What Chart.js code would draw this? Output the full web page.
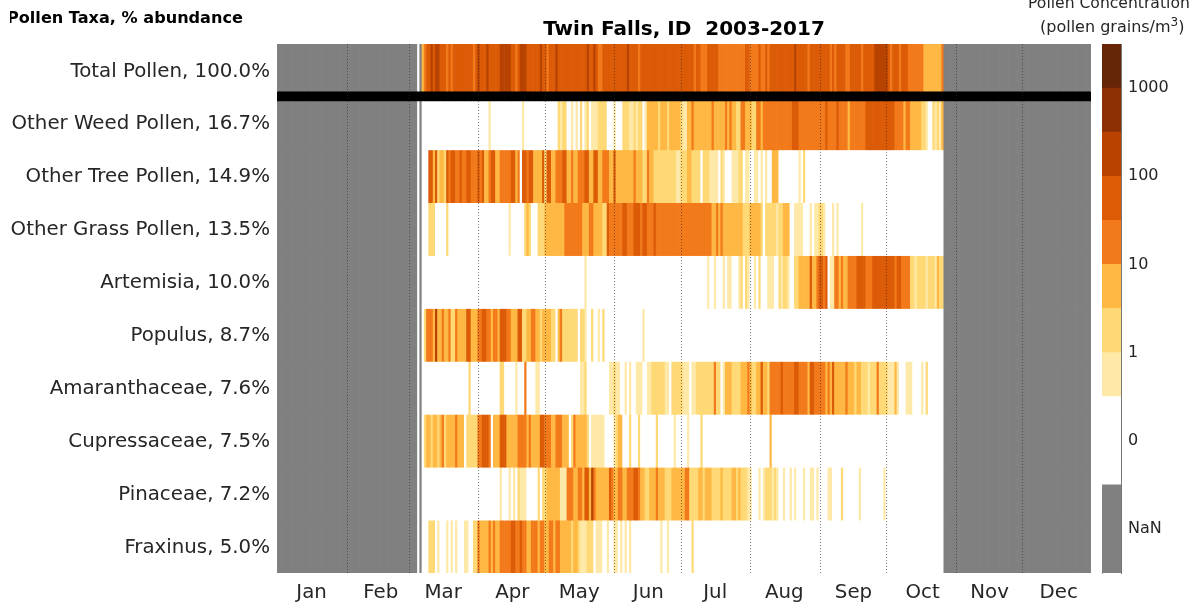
<!DOCTYPE html>
<html>
<head>
<meta charset="utf-8">
<script src="https://cdn.jsdelivr.net/npm/chart.js@4/dist/chart.umd.js"></script>
<style>
html,body{margin:0;padding:0;background:#fff;width:1203px;height:607px;overflow:hidden;font-family:"DejaVu Sans",sans-serif;}
canvas{position:absolute;}
.note{position:absolute;white-space:nowrap;color:#000;}
</style>
</head>
<body>
<canvas id="main" width="1203" height="607" style="left:0;top:0"></canvas>
<canvas id="bar" width="108" height="607" style="left:1095px;top:0"></canvas>
<div class="note" style="left:10px;top:9px;width:240px;overflow:hidden;font-weight:bold;font-size:16.1px;line-height:18px"><span style="margin-left:-3px">Pollen Taxa, % abundance</span></div>
<div class="note" style="left:1028px;top:-6px;font-size:15.6px;line-height:18px;color:#262626">Pollen Concentration</div>
<div class="note" style="left:1040px;top:18px;font-size:16px;line-height:18px;color:#262626">(pollen grains/m<sup style="font-size:12px;line-height:0;vertical-align:6px">3</sup>)</div>
<script>
const rowLabels = ["Total Pollen, 100.0%","Other Weed Pollen, 16.7%","Other Tree Pollen, 14.9%","Other Grass Pollen, 13.5%","Artemisia, 10.0%","Populus, 8.7%","Amaranthaceae, 7.6%","Cupressaceae, 7.5%","Pinaceae, 7.2%","Fraxinus, 5.0%"];
const monthLabels = ["Jan","Feb","Mar","Apr","May","Jun","Jul","Aug","Sep","Oct","Nov","Dec"];
const monthLabelDays = [15,46,74,105,135,166,196,227,258,289,319,350];
const monthStartDays = [31,59,90,120,151,181,212,243,273,304,334];
const barTickLabels = ["NaN","0","1","10","100","1000"];
const levelColors = ["#ffffff","#FEE9A8","#FED976","#FEB843","#F27A1B","#DC5B07","#B84301","#8C2F03","#662506"];
const nanColor = "#808080";
// each entry: [day of year, colour-bin level from that day on]
const totalPollen = [[65,3],[66,4],[67,5],[69,6],[70,5],[71,6],[73,5],[76,4],[77,5],[78,4],[79,5],[88,4],[89,5],[90,6],[91,5],[94,6],[95,5],[100,6],[105,5],[107,4],[108,5],[109,6],[112,5],[118,6],[119,5],[121,4],[122,5],[125,6],[126,5],[139,6],[140,5],[142,6],[143,5],[144,4],[146,5],[157,6],[158,5],[162,4],[163,5],[187,4],[188,5],[190,4],[193,5],[198,4],[210,5],[212,4],[216,5],[217,4],[219,5],[220,4],[221,5],[232,6],[233,5],[238,4],[239,5],[248,4],[249,5],[250,4],[251,5],[255,4],[257,5],[262,4],[263,5],[268,6],[274,5],[275,4],[276,5],[279,4],[280,5],[283,4],[290,3],[298,4]];
const otherWeed = [[65,0],[95,1],[96,0],[110,1],[111,0],[126,2],[127,1],[128,2],[130,0],[132,1],[133,0],[134,1],[135,0],[136,2],[137,0],[138,1],[139,2],[140,0],[141,1],[144,2],[148,0],[151,1],[152,0],[155,2],[158,1],[160,2],[161,1],[162,2],[164,0],[165,1],[166,3],[171,2],[172,3],[175,2],[176,3],[181,2],[182,1],[184,3],[186,4],[187,3],[195,4],[196,3],[201,4],[202,3],[203,4],[204,3],[206,2],[208,4],[210,3],[213,2],[215,4],[217,3],[218,4],[231,5],[234,4],[246,5],[247,4],[251,5],[252,4],[256,3],[257,4],[264,5],[277,4],[281,3],[282,4],[284,3],[289,2],[291,1],[292,0],[294,2],[295,1],[296,2],[297,1],[298,3]];
const otherTree = [[65,0],[68,5],[70,3],[71,5],[72,2],[73,3],[75,2],[76,5],[77,4],[78,5],[80,4],[82,5],[83,4],[85,5],[87,4],[90,5],[91,4],[92,5],[93,3],[95,4],[96,5],[98,3],[100,4],[105,5],[107,3],[108,4],[109,0],[110,5],[112,4],[113,5],[115,3],[119,5],[120,2],[121,5],[123,3],[125,4],[128,5],[130,3],[132,4],[133,3],[135,4],[138,5],[140,3],[142,5],[144,3],[146,4],[149,3],[151,5],[152,3],[160,4],[161,3],[164,2],[166,4],[167,3],[169,2],[179,1],[181,2],[184,3],[186,2],[190,0],[191,2],[194,1],[198,0],[199,2],[200,1],[201,0],[204,1],[207,2],[209,0],[210,1],[212,0],[214,1],[216,0],[217,1],[218,0],[219,1],[220,0],[222,3],[225,0],[234,1],[235,0],[236,2],[237,0]];
const otherGrass = [[65,0],[68,2],[71,0],[76,2],[77,0],[104,1],[105,0],[111,2],[112,3],[113,2],[114,0],[117,2],[120,3],[129,4],[137,3],[140,4],[142,3],[146,2],[148,5],[149,4],[155,5],[157,4],[160,5],[163,4],[164,5],[166,4],[169,5],[170,4],[195,3],[197,4],[198,3],[199,4],[200,3],[209,2],[212,3],[217,2],[218,0],[219,2],[224,1],[225,2],[227,3],[230,0],[232,1],[236,0],[239,1],[240,0],[241,1],[243,2],[245,1],[246,0],[249,1],[250,0],[251,1],[252,0],[262,1],[263,0]];
const artemisia = [[65,0],[138,1],[139,0],[193,1],[194,0],[196,1],[197,0],[200,1],[201,0],[202,1],[204,0],[207,1],[208,2],[209,0],[210,2],[211,1],[212,0],[214,1],[215,0],[216,2],[217,0],[220,1],[223,0],[225,2],[226,1],[227,2],[229,1],[230,0],[232,2],[234,3],[239,5],[240,3],[242,4],[243,5],[245,4],[246,5],[247,0],[248,1],[250,4],[252,3],[253,4],[254,3],[256,4],[260,5],[264,4],[267,5],[277,4],[278,5],[280,4],[284,2],[286,1],[287,2],[291,1],[292,2],[295,1],[296,3],[297,2]];
const populus = [[65,0],[66,2],[67,4],[70,3],[71,6],[72,3],[74,4],[75,3],[77,4],[78,2],[80,4],[81,3],[85,5],[87,3],[90,4],[92,5],[94,4],[96,3],[97,4],[99,3],[100,5],[103,4],[105,3],[108,5],[110,2],[112,3],[114,4],[116,3],[118,2],[119,3],[123,2],[125,0],[126,3],[127,4],[128,2],[135,0],[136,2],[138,1],[139,0],[141,2],[142,0],[144,1],[145,0],[146,2],[147,0],[164,1],[165,0]];
const amaranthaceae = [[65,0],[86,2],[87,0],[100,2],[102,0],[107,1],[108,0],[111,4],[112,0],[116,1],[118,0],[136,1],[138,2],[139,0],[149,1],[151,2],[152,1],[154,0],[156,1],[157,0],[158,1],[159,0],[161,1],[164,0],[166,1],[168,2],[174,1],[176,0],[177,2],[182,1],[185,0],[186,1],[188,2],[196,4],[197,2],[199,0],[200,1],[201,3],[204,2],[208,3],[211,4],[212,3],[213,2],[215,3],[217,5],[218,3],[220,2],[221,4],[226,5],[227,4],[232,5],[234,4],[238,3],[239,5],[241,4],[246,3],[247,4],[248,3],[249,5],[250,3],[255,4],[256,3],[259,2],[260,3],[262,2],[265,1],[266,2],[269,4],[270,2],[274,1],[277,3],[278,1],[279,0],[282,1],[285,0],[289,1],[290,0],[291,2],[292,0]];
const cupressaceae = [[65,0],[66,2],[67,3],[69,2],[70,3],[72,2],[73,3],[74,4],[75,2],[76,3],[80,4],[81,3],[84,0],[85,2],[90,4],[92,5],[95,4],[96,0],[97,3],[100,5],[103,3],[108,4],[112,3],[113,4],[114,3],[118,5],[120,4],[123,3],[125,4],[128,3],[131,0],[132,2],[133,4],[134,3],[139,2],[140,0],[141,1],[147,0],[151,1],[152,2],[153,3],[155,0],[158,2],[159,0],[162,2],[163,0],[170,2],[171,0],[178,1],[179,0],[184,1],[185,0],[190,2],[191,0],[221,3],[222,0]];
const pinaceae = [[65,0],[100,1],[101,0],[104,1],[105,0],[106,1],[107,0],[108,2],[109,1],[112,0],[117,2],[118,0],[119,2],[121,3],[127,1],[130,4],[133,3],[135,4],[137,3],[138,5],[140,3],[141,6],[142,4],[143,3],[149,5],[150,4],[151,3],[153,4],[155,3],[157,4],[160,5],[162,4],[163,3],[165,2],[167,3],[170,4],[171,3],[174,2],[177,3],[183,4],[185,2],[189,3],[191,2],[192,3],[195,2],[199,3],[200,2],[204,3],[206,2],[207,3],[208,2],[211,1],[213,0],[216,1],[217,0],[218,1],[219,2],[222,1],[223,2],[224,1],[225,0],[227,1],[228,0],[230,1],[231,0],[232,1],[233,0],[236,1],[237,0],[239,1],[241,0],[242,1],[243,0],[247,1],[249,0],[253,2],[254,0],[261,1],[262,0],[272,1],[273,0]];
const fraxinus = [[65,0],[68,2],[71,0],[72,1],[73,0],[76,1],[77,0],[78,1],[79,0],[80,1],[81,0],[84,1],[86,0],[88,2],[90,4],[91,3],[95,4],[96,3],[97,4],[98,3],[100,4],[105,5],[107,4],[109,5],[110,4],[112,3],[114,4],[117,3],[118,4],[120,3],[122,4],[124,3],[125,4],[127,3],[132,2],[133,3],[135,2],[136,1],[139,2],[142,0],[143,1],[146,0],[148,1],[149,0],[151,1],[153,0],[154,1],[155,0],[156,1],[157,0],[158,1],[159,0],[172,1],[173,0],[175,1],[176,0],[186,2],[187,0]];
const rowRuns = [totalPollen,otherWeed,otherTree,otherGrass,artemisia,populus,amaranthaceae,cupressaceae,pinaceae,fraxinus];
const gapDay = 63, noDataAfter = 299;
const dayCount = 365;

function expand(runs){
  const out = new Array(dayCount).fill(null);
  out[gapDay] = 0;
  runs.forEach((r,i)=>{
    const end = i+1<runs.length ? runs[i+1][0] : noDataAfter;
    for(let d=r[0]; d<end; d++) out[d]=r[1];
  });
  return out;
}
const days = Array.from({length:dayCount},(_,i)=>i);
const rowDatasets = rowRuns.map((runs,row)=>{
  const lv = expand(runs);
  return {
    label: rowLabels[row],
    data: days.map(()=>[row,row+1]),
    backgroundColor: lv.map(v=> v===null ? nanColor : levelColors[v]),
    borderWidth:0
  };
});
const separator = {
  label:"separator",
  data: days.map(()=>[0.905,1.075]),
  backgroundColor:"#000",
  borderWidth:0
};
const textColor = "#262626";
Chart.defaults.font.family = '"DejaVu Sans"';
new Chart(document.getElementById("main"),{
  type:"bar",
  data:{labels:days,datasets:[separator,...rowDatasets]},
  options:{
    responsive:false,animation:false,
    layout:{padding:{top:0,right:112,left:0,bottom:0}},
    datasets:{bar:{grouped:false,barPercentage:1,categoryPercentage:1}},
    plugins:{
      legend:{display:false},tooltip:{enabled:false},
      title:{display:true,text:"Twin Falls, ID  2003-2017",fullSize:false,color:"#000",
             font:{size:20,weight:"bold",family:'"DejaVu Sans"'},padding:{top:18,bottom:2}}
    },
    scales:{
      x:{
        type:"category",
        grid:{z:1,offset:false,drawTicks:false,
          color:c=>monthStartDays.includes(c.index)?"rgba(40,40,40,0.6)":"rgba(0,0,0,0)",
          lineWidth:c=>monthStartDays.includes(c.index)?1:0},
        border:{display:false,dash:[1,2]},
        ticks:{autoSkip:false,maxRotation:0,minRotation:0,padding:8,color:textColor,font:{size:19.8},
          callback:(v,i)=>{const m=monthLabelDays.indexOf(i);return m>=0?monthLabels[m]:"";}},
        afterFit:s=>{s.height=34;}
      },
      y:{
        min:0,max:10,reverse:true,
        grid:{display:false,drawTicks:false},
        border:{display:false},
        afterBuildTicks:s=>{s.ticks=rowLabels.map((_,i)=>({value:i+0.5}));},
        ticks:{padding:7,color:textColor,font:{size:19.8},labelOffset:1,callback:(v,i)=>rowLabels[i]},
        afterFit:s=>{s.width=277;}
      }
    }
  }
});
const barBins = [nanColor,...levelColors];
const barSpans = [2,2,1,1,1,1,1,1,1,1];
new Chart(document.getElementById("bar"),{
  type:"bar",
  data:{labels:[""],datasets:barBins.map((c,i)=>({data:[barSpans[i]],backgroundColor:c,borderWidth:0,stack:"s",yAxisID:"y"}))},
  options:{
    responsive:false,animation:false,
    layout:{padding:{top:44,bottom:34,left:0,right:0}},
    datasets:{bar:{barPercentage:1,categoryPercentage:1}},
    plugins:{legend:{display:false},tooltip:{enabled:false}},
    scales:{
      x:{stacked:true,display:false},
      yl:{position:"left",min:0,max:12,
        grid:{display:false},border:{display:true,color:"#999"},ticks:{display:false},
        afterFit:s=>{s.width=7;}},
      y:{position:"right",min:0,max:12,stacked:true,
        grid:{drawOnChartArea:false,tickLength:-4,color:"#444"},
        border:{display:true,color:"#777"},
        afterBuildTicks:s=>{s.ticks=barTickLabels.map((_,i)=>({value:2*i+1}));},
        ticks:{padding:11,color:textColor,font:{size:16},callback:(v,i)=>barTickLabels[i]},
        afterFit:s=>{s.width=108-26;}
      }
    }
  }
});
</script>
</body>
</html>
